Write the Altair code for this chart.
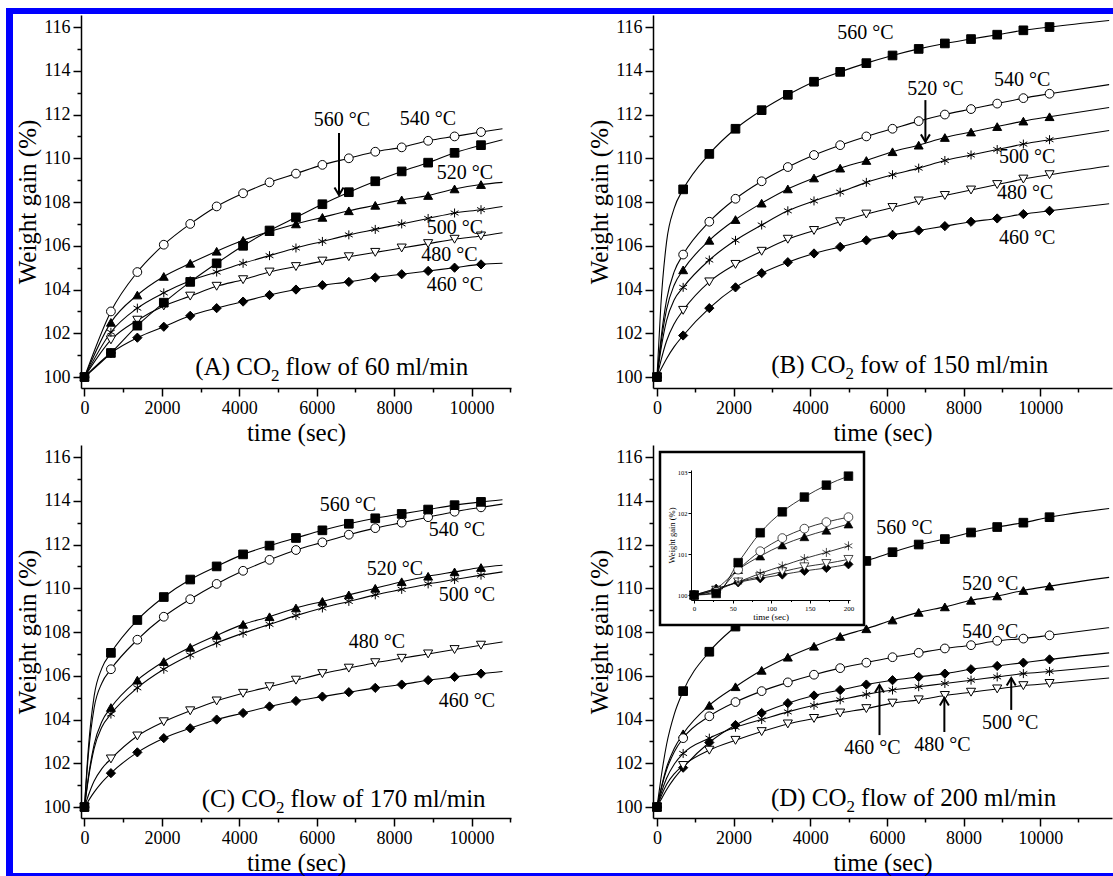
import altair as alt
import pandas as pd

SERIF = "Liberation Serif"
TEMPS = ["460", "480", "500", "520", "540", "560"]

# sampling times of the TGA runs (s) and the extra times used for the fitted curves
TIMES = [0, 683, 1366, 2049, 2732, 3415, 4098, 4781, 5464, 6147, 6830, 7513, 8196, 8879, 9562, 10245]
EARLY_T = [100, 250, 450]
END_T_L = 10800
END_T_R = 11800

# (A) CO2 flow of 60 ml/min
A460 = [100, 101.1, 101.8, 102.3, 102.8, 103.15, 103.45, 103.75, 104.0, 104.2, 104.35, 104.55, 104.7, 104.85, 105.0, 105.15]
A480 = [100, 101.7, 102.6, 103.25, 103.7, 104.15, 104.45, 104.8, 105.05, 105.3, 105.5, 105.7, 105.9, 106.1, 106.3, 106.45]
A500 = [100, 102.05, 103.15, 103.85, 104.4, 104.8, 105.2, 105.55, 105.9, 106.2, 106.5, 106.75, 107.0, 107.25, 107.5, 107.65]
A520 = [100, 102.5, 103.75, 104.6, 105.2, 105.75, 106.25, 106.65, 107.0, 107.3, 107.6, 107.85, 108.1, 108.3, 108.6, 108.8]
A540 = [100, 103.0, 104.8, 106.05, 107.0, 107.8, 108.4, 108.9, 109.3, 109.7, 110.0, 110.3, 110.5, 110.8, 111.0, 111.2]
A560 = [100, 101.1, 102.35, 103.4, 104.35, 105.2, 106.0, 106.7, 107.3, 107.9, 108.45, 108.95, 109.4, 109.8, 110.25, 110.6]
A_END = [105.2, 106.6, 107.8, 108.9, 111.35, 110.85]

# (B) CO2 flow of 150 ml/min
B460 = [100, 101.9, 103.15, 104.1, 104.75, 105.25, 105.65, 105.95, 106.25, 106.5, 106.7, 106.9, 107.1, 107.25, 107.45, 107.6]
B480 = [100, 103.05, 104.35, 105.15, 105.75, 106.3, 106.7, 107.1, 107.45, 107.75, 108.05, 108.3, 108.55, 108.8, 109.05, 109.25]
B500 = [100, 104.1, 105.35, 106.25, 106.95, 107.6, 108.05, 108.45, 108.9, 109.25, 109.55, 109.9, 110.15, 110.4, 110.65, 110.85]
B520 = [100, 104.9, 106.25, 107.2, 107.95, 108.6, 109.1, 109.55, 109.9, 110.3, 110.6, 110.95, 111.2, 111.45, 111.7, 111.9]
B540 = [100, 105.6, 107.1, 108.15, 108.95, 109.6, 110.15, 110.6, 111.0, 111.35, 111.7, 112.0, 112.25, 112.5, 112.75, 112.95]
B560 = [100, 108.58, 110.2, 111.35, 112.2, 112.9, 113.5, 113.95, 114.35, 114.7, 115.0, 115.25, 115.45, 115.65, 115.85, 116.0]
B_END = [107.92, 109.65, 111.27, 112.32, 113.37, 116.3]
B460_E = [100.34, 100.84, 101.39]
B480_E = [100.73, 101.65, 102.44]
B500_E = [101.23, 102.58, 103.53]
B520_E = [101.47, 103.09, 104.21]
B540_E = [101.68, 103.53, 104.82]
B560_E = [103.26, 106.18, 107.72]

# (C) CO2 flow of 170 ml/min
C460 = [100, 101.55, 102.5, 103.15, 103.6, 104.0, 104.3, 104.6, 104.85, 105.05, 105.25, 105.45, 105.6, 105.8, 105.95, 106.1]
C480 = [100, 102.2, 103.25, 103.9, 104.4, 104.85, 105.2, 105.5, 105.8, 106.1, 106.35, 106.6, 106.8, 107.0, 107.2, 107.4]
C500 = [100, 104.25, 105.45, 106.3, 106.95, 107.5, 107.95, 108.35, 108.75, 109.1, 109.4, 109.7, 109.95, 110.2, 110.4, 110.6]
C520 = [100, 104.55, 105.8, 106.65, 107.3, 107.85, 108.35, 108.7, 109.1, 109.4, 109.7, 110.0, 110.3, 110.55, 110.75, 110.95]
C540 = [100, 106.3, 107.65, 108.7, 109.5, 110.2, 110.8, 111.3, 111.75, 112.1, 112.45, 112.75, 113.0, 113.25, 113.5, 113.7]
C560 = [100, 107.05, 108.55, 109.6, 110.4, 111.0, 111.55, 111.95, 112.3, 112.65, 112.95, 113.2, 113.4, 113.6, 113.8, 113.95]
C_END = [106.2, 107.55, 110.75, 111.05, 113.85, 114.05]
C460_E = [100.28, 100.68, 101.13]
C480_E = [100.53, 101.19, 101.76]
C500_E = [101.28, 102.68, 103.66]
C520_E = [101.37, 102.87, 103.91]
C540_E = [102.39, 104.54, 105.67]
C560_E = [102.68, 105.08, 106.35]

# (D) CO2 flow of 200 ml/min
D460 = [100, 101.8, 102.95, 103.75, 104.3, 104.75, 105.1, 105.35, 105.6, 105.8, 105.95, 106.1, 106.3, 106.45, 106.6, 106.75]
D480 = [100, 101.9, 102.6, 103.05, 103.45, 103.8, 104.05, 104.3, 104.5, 104.75, 104.9, 105.1, 105.25, 105.4, 105.55, 105.65]
D500 = [100, 102.45, 103.15, 103.65, 104.0, 104.35, 104.65, 104.9, 105.15, 105.35, 105.5, 105.65, 105.8, 105.95, 106.1, 106.2]
D520 = [100, 103.35, 104.65, 105.5, 106.25, 106.85, 107.35, 107.8, 108.15, 108.55, 108.9, 109.15, 109.45, 109.65, 109.9, 110.1]
D540 = [100, 103.15, 104.15, 104.8, 105.3, 105.7, 106.05, 106.35, 106.6, 106.85, 107.05, 107.25, 107.4, 107.6, 107.7, 107.85]
D560 = [100, 105.3, 107.1, 108.25, 109.2, 109.9, 110.45, 110.9, 111.25, 111.65, 112.0, 112.25, 112.55, 112.8, 113.0, 113.25]
D_END = [107.05, 105.9, 106.45, 110.5, 108.2, 113.65]
D460_E = [100.32, 100.79, 101.31]
D480_E = [100.46, 101.03, 101.52]
D500_E = [100.59, 101.32, 101.96]
D520_E = [100.80, 101.81, 102.68]
D540_E = [100.76, 101.70, 102.52]
D560_E = [101.27, 102.86, 104.24]

# inset of (D): first 200 s
INSET_T = [0, 28.6, 57.1, 85.7, 114.3, 142.9, 171.4, 200]
I460 = [100, 100.15, 100.31, 100.41, 100.5, 100.59, 100.66, 100.75]
I480 = [100, 100.12, 100.32, 100.45, 100.57, 100.69, 100.77, 100.87]
I500 = [100, 100.16, 100.32, 100.53, 100.71, 100.89, 101.04, 101.2]
I520 = [100, 100.16, 100.62, 100.95, 101.22, 101.42, 101.58, 101.73]
I540 = [100, 100.08, 100.62, 101.07, 101.39, 101.62, 101.78, 101.9]
I560 = [100, 100.04, 100.79, 101.52, 102.03, 102.39, 102.68, 102.9]

X_TICKS = list(range(0, 12000, 1000))
Y_TICKS = list(range(100, 117))

# marker styles per temperature
ASTERISK = "M0,-1L0,1M-0.87,-0.5L0.87,0.5M-0.87,0.5L0.87,-0.5"
SHAPES = ["diamond", "triangle-down", ASTERISK, "triangle-up", "circle", "square"]
FILLS = ["black", "white", "black", "black", "white", "black"]
SIZES = [85, 75, 95, 75, 64, 56]
INSET_SIZES = [18, 16, 20, 16, 14, 12]
ARROW_DOWN = "M-0.6,-1L0,0L0.6,-1"
ARROW_UP = "M-0.6,1L0,0L0.6,1"

PLOT_H = 373
Y_DOMAIN = [99.5, 116.55]

AXIS_STYLE = dict(
    grid=False, domainColor="black", domainWidth=1.5, tickColor="black", tickWidth=1.5,
    labelFont=SERIF, labelFontSize=18, labelFontWeight=400, labelColor="black", labelPadding=3,
    titleFont=SERIF, titleFontSize=25, titleFontWeight=400, titleColor="black", titlePadding=3,
    labelFlush=False, labelOverlap=False,
)


def temp_frame(times, series):
    rows = []
    for temp, vals in zip(TEMPS, series):
        rows += [{"temp": temp, "t": t, "v": v} for t, v in zip(times, vals)]
    return pd.DataFrame(rows)


def curve_frame(series, early, ends, end_t):
    rows = []
    for k, temp in enumerate(TEMPS):
        ts = [TIMES[0]] + (EARLY_T if early else []) + TIMES[1:] + [end_t]
        vs = [series[k][0]] + (early[k] if early else []) + series[k][1:] + [ends[k]]
        rows += [{"temp": temp, "t": t, "v": v} for t, v in zip(ts, vs)]
    return pd.DataFrame(rows)


def major(step):
    return f"datum.value % {step} === 0"


def x_enc(domain):
    return alt.X(
        "t:Q",
        scale=alt.Scale(domain=domain, nice=False, zero=False),
        axis=alt.Axis(
            title="time (sec)", values=X_TICKS, format="d",
            labelExpr=f"{major(2000)} ? datum.label : ''",
            tickSize={"condition": {"test": major(2000), "value": 8}, "value": 4},
            **AXIS_STYLE,
        ),
    )


def y_enc(field="v"):
    return alt.Y(
        f"{field}:Q",
        scale=alt.Scale(domain=Y_DOMAIN, nice=False, zero=False),
        axis=alt.Axis(
            title="Weight gain (%)", values=Y_TICKS, format="d",
            labelExpr=f"{major(2)} ? datum.label : ''",
            tickSize={"condition": {"test": major(2), "value": 8}, "value": 4},
            **AXIS_STYLE,
        ),
    )


def marker_layer(df, X, Y, sizes, sw=1.0):
    return alt.Chart(df).mark_point(opacity=1, stroke="black", strokeWidth=sw).encode(
        x=X, y=Y,
        shape=alt.Shape("temp:N", scale=alt.Scale(domain=TEMPS, range=SHAPES), legend=None),
        fill=alt.Fill("temp:N", scale=alt.Scale(domain=TEMPS, range=FILLS), legend=None),
        size=alt.Size("temp:N", scale=alt.Scale(domain=TEMPS, range=sizes), legend=None),
    )


def panel(marks, curves, notes, label, anchor, xdom, width, arrows=None, arrow_shape=None, extra=None):
    X = x_enc(xdom)
    Y = y_enc()
    layers = list(extra or [])
    layers.append(
        alt.Chart(curves).mark_line(interpolate="monotone", color="black", strokeWidth=1.1, clip=True)
        .encode(x=X, y=Y, detail="temp:N")
    )
    layers.append(marker_layer(marks, X, Y, SIZES))
    layers.append(
        alt.Chart(notes).mark_text(font=SERIF, fontSize=20, color="black")
        .encode(x=X, y=Y, text="txt:N")
    )
    if arrows is not None:
        layers.append(
            alt.Chart(arrows).mark_rule(strokeWidth=2, color="black")
            .encode(x=X, y=Y, y2="v2:Q")
        )
        layers.append(
            alt.Chart(arrows).mark_point(shape=arrow_shape, size=225, filled=False, opacity=1,
                                         stroke="black", strokeWidth=2)
            .encode(x=X, y=y_enc("v2"))
        )
    # panel caption "(X) CO2 flow of ..." with a lowered subscript
    head, tail = label
    pos = pd.DataFrame({"t": [anchor[0]], "v": [anchor[1]]})
    layers.append(alt.Chart(pos).mark_text(text=head, font=SERIF, fontSize=25, align="right",
                                           baseline="alphabetic", color="black").encode(x=X, y=Y))
    layers.append(alt.Chart(pos).mark_text(text="2", font=SERIF, fontSize=17, align="left", dy=6,
                                           baseline="alphabetic", color="black").encode(x=X, y=Y))
    layers.append(alt.Chart(pos).mark_text(text=tail, font=SERIF, fontSize=25, align="left", dx=14.5,
                                           baseline="alphabetic", color="black").encode(x=X, y=Y))
    return alt.layer(*layers).properties(width=width, height=PLOT_H)


def notes(ts, vs):
    return pd.DataFrame({"t": ts, "v": vs, "txt": [f"{k} °C" for k in ("560", "540", "520", "500", "480", "460")]})


XDOM_L = [-90, 11020]
XDOM_R = [-104, 11875]
W_L, W_R = 430, 459

# page frame: an empty rect spanning the whole page plus the blue border bars
one = pd.DataFrame({"k": [0]})
frame = [
    alt.Chart(one).mark_rect(fill="white", fillOpacity=0, strokeOpacity=0)
    .encode(x=alt.value(-81), x2=alt.value(1032), y=alt.value(-15), y2=alt.value(861)),
    alt.Chart(one).mark_rect(fill="#0000ff")
    .encode(x=alt.value(-75), x2=alt.value(-68), y=alt.value(-7), y2=alt.value(861)),
    alt.Chart(one).mark_rect(fill="#0000ff")
    .encode(x=alt.value(-75), x2=alt.value(1032), y=alt.value(-7), y2=alt.value(-1)),
    alt.Chart(one).mark_rect(fill="#0000ff")
    .encode(x=alt.value(-75), x2=alt.value(1032), y=alt.value(858), y2=alt.value(861)),
]

panel_a = panel(
    temp_frame(TIMES, [A460, A480, A500, A520, A540, A560]),
    curve_frame([A460, A480, A500, A520, A540, A560], None, A_END, END_T_L),
    notes([6653, 8875, 9831, 9573, 9431, 9573], [111.75, 111.8, 109.33, 106.81, 105.58, 104.21]),
    ("(A) CO", "flow of 60 ml/min"), (4819, 100.09), XDOM_L, W_L,
    arrows=pd.DataFrame({"t": [6576], "v": [111.16], "v2": [108.32]}), arrow_shape=ARROW_DOWN,
    extra=frame,
)

panel_b = panel(
    temp_frame(TIMES, [B460, B480, B500, B520, B540, B560]),
    curve_frame([B460, B480, B500, B520, B540, B560],
                [B460_E, B480_E, B500_E, B520_E, B540_E, B560_E], B_END, END_T_R),
    notes([5443, 9531, 7266, 9661, 9609, 9661], [115.73, 113.58, 113.17, 110.06, 108.41, 106.36]),
    ("(B) CO", "fow of 150 ml/min"), (4922, 100.19), XDOM_R, W_R,
    arrows=pd.DataFrame({"t": [7005], "v": [112.66], "v2": [110.75]}), arrow_shape=ARROW_DOWN,
)

panel_c = panel(
    temp_frame(TIMES, [C460, C480, C500, C520, C540, C560]),
    curve_frame([C460, C480, C500, C520, C540, C560],
                [C460_E, C480_E, C500_E, C520_E, C540_E, C560_E], C_END, END_T_L),
    notes([6808, 9625, 8023, 9883, 7558, 9883], [113.81, 112.66, 110.88, 109.69, 107.55, 104.85]),
    ("(C) CO", "flow of 170 ml/min"), (4948, 100.0), XDOM_L, W_L,
)

panel_d_main = panel(
    temp_frame(TIMES, [D460, D480, D500, D520, D540, D560]),
    curve_frame([D460, D480, D500, D520, D540, D560],
                [D460_E, D480_E, D500_E, D520_E, D540_E, D560_E], D_END, END_T_R),
    notes([6458, 8698, 8698, 9219, 7448, 5625], [112.76, 108.0, 110.2, 103.84, 102.84, 102.7]),
    ("(D) CO", "flow of 200 ml/min"), (4948, 100.05), XDOM_R, W_R,
    arrows=pd.DataFrame({"t": [5807, 7500, 9245], "v": [103.29, 103.43, 104.44],
                         "v2": [105.58, 104.99, 105.9]}),
    arrow_shape=ARROW_UP,
)

# inset: the first 200 s of the 200 ml/min runs, drawn in its own box
INSET_AXIS = dict(
    zindex=1, grid=False, domainColor="black", tickColor="black", domainWidth=1, tickWidth=1,
    labelFont=SERIF, labelColor="black", titleFont=SERIF, titleColor="black",
    titleFontWeight=400, labelPadding=1, titlePadding=1, labelFlush=False, labelOverlap=False,
)
IX = alt.X(
    "t:Q", scale=alt.Scale(domain=[-4, 202], range=[38, 197], nice=False, zero=False),
    axis=alt.Axis(orient="bottom", offset=-218, title="time (sec)", format="d",
                  values=list(range(0, 201, 25)), labelExpr=f"{major(50)} ? datum.label : ''",
                  tickSize={"condition": {"test": major(50), "value": 3}, "value": 1.5},
                  labelFontSize=7, titleFontSize=9, **INSET_AXIS),
)
IY = alt.Y(
    "v:Q", scale=alt.Scale(domain=[99.88, 103.05], range=[155, 25], nice=False, zero=False),
    axis=alt.Axis(orient="left", offset=-38, title="Weight gain (%)", format="d",
                  values=[100, 100.5, 101, 101.5, 102, 102.5, 103],
                  labelExpr="datum.value % 1 === 0 ? datum.label : ''",
                  tickSize={"condition": {"test": "datum.value % 1 === 0", "value": 3}, "value": 1.5},
                  labelFontSize=6.5, titleFontSize=8.5, **INSET_AXIS),
)
inset_series = temp_frame(INSET_T, [I460, I480, I500, I520, I540, I560])
inset = alt.layer(
    alt.Chart(one).mark_rect(fill="white", stroke="black", strokeWidth=2.5)
    .encode(x=alt.value(7), x2=alt.value(211), y=alt.value(7), y2=alt.value(180)),
    alt.Chart(inset_series).mark_line(interpolate="monotone", color="black", strokeWidth=0.8)
    .encode(x=IX, y=IY, detail="temp:N"),
    marker_layer(inset_series, IX, IY, INSET_SIZES, sw=0.7),
)

panel_d = alt.layer(panel_d_main, inset).resolve_scale(x="independent", y="independent").properties(
    width=W_R, height=PLOT_H
)

chart = alt.concat(
    panel_a, panel_b, panel_c, panel_d,
    columns=2, spacing={"row": 57, "column": 142}, bounds="flush", align="each",
).properties(padding=0).configure(font=SERIF).configure_view(stroke=None).configure_axis(
    labelFont=SERIF, titleFont=SERIF, titleFontWeight=400, labelFontWeight=400,
)

chart.save("out.html", embed_options={"renderer": "svg", "actions": False})
